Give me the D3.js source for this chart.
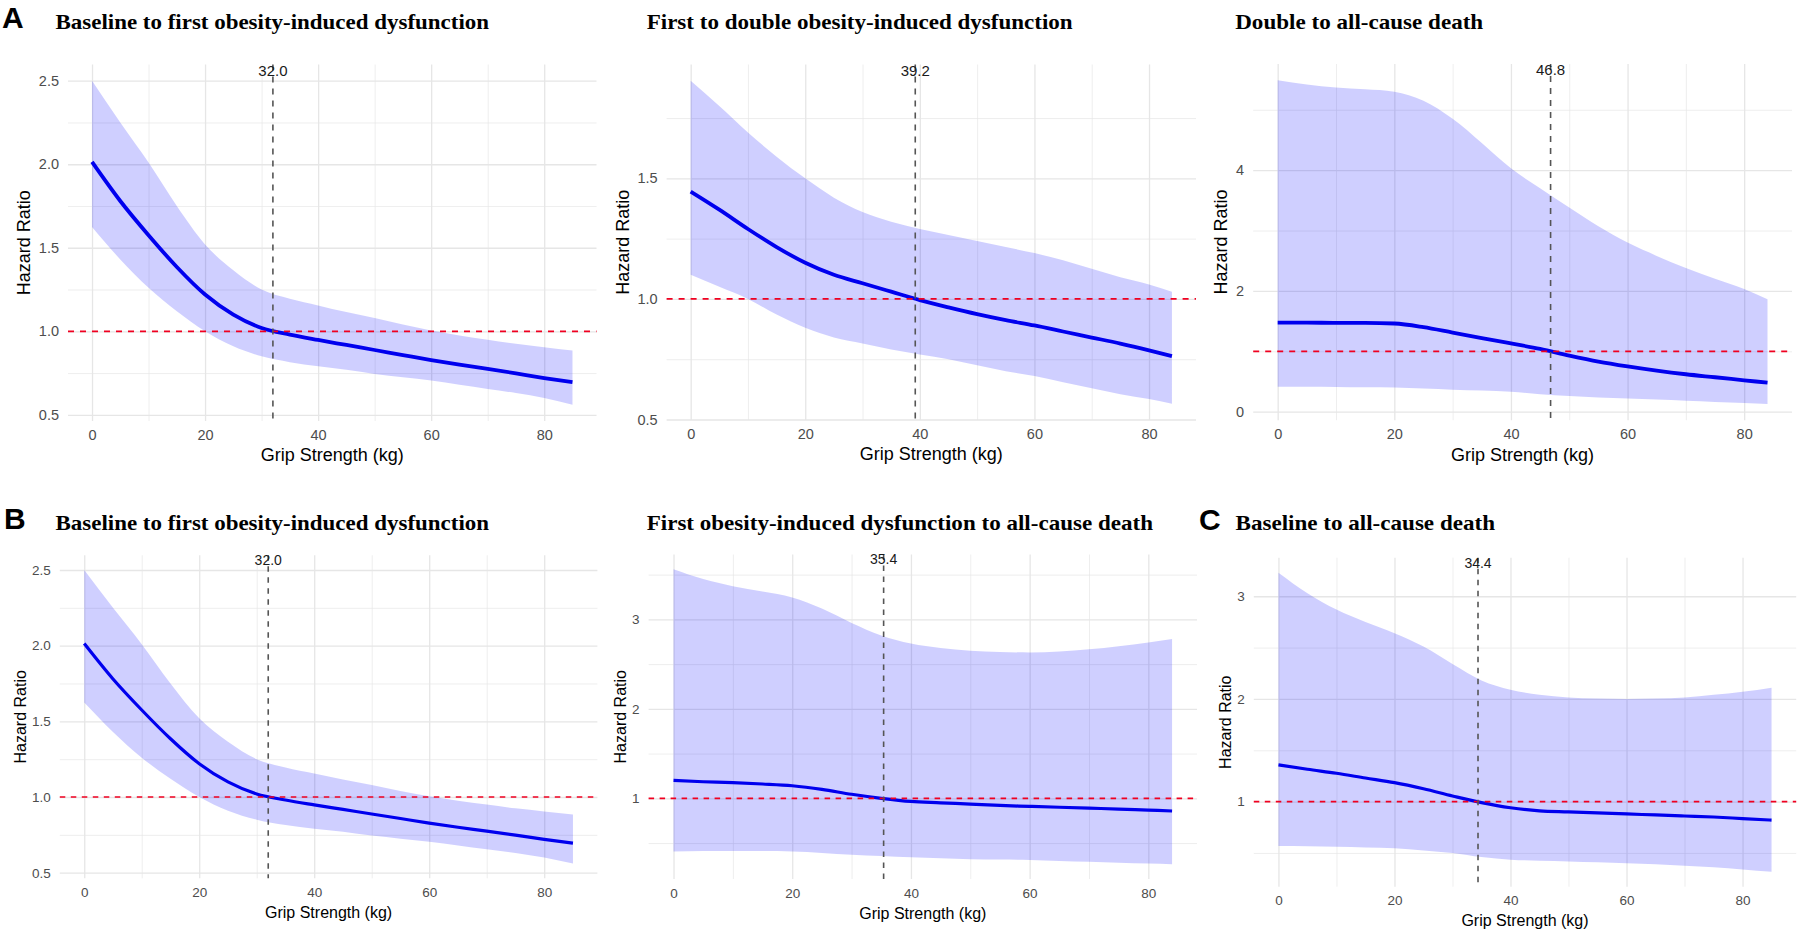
<!DOCTYPE html>
<html><head><meta charset="utf-8">
<script src="https://cdn.jsdelivr.net/npm/d3@7"></script>
<style>body{margin:0;background:#fff;} svg{display:block;}</style>
</head><body><svg id="chart" width="1800" height="931"></svg>
<script>
// ---------------- DATA ----------------
const gripFull = [0,5,10,15,20,25,30,35,40,45,50,55,60,65,70,75,80,85];
const gripShort = [0,5,10,15,20,25,30,35,40,45,50,55,60,65,70,75,80,84];
const xTicks = [0,20,40,60,80];
const xMinor = [10,30,50,70];
const axisTitleX = "Grip Strength (kg)";
const axisTitleY = "Hazard Ratio";

// Baseline to first obesity-induced dysfunction (A and B, identical)
const base1_hr    = [2.014,1.78,1.575,1.385,1.22,1.10,1.02,0.98,0.948,0.918,0.888,0.858,0.828,0.80,0.775,0.748,0.72,0.695];
const base1_upper = [2.5,2.25,2.01,1.75,1.52,1.365,1.25,1.195,1.155,1.115,1.08,1.04,1.005,0.975,0.95,0.925,0.905,0.885];
const base1_lower = [1.625,1.43,1.26,1.12,1.0,0.91,0.85,0.815,0.79,0.77,0.745,0.725,0.705,0.68,0.655,0.63,0.60,0.56];
const base1_ref = 32.0;
const base1_yTicks = [0.5,1.0,1.5,2.0,2.5];

// First to double obesity-induced dysfunction
const double_hr    = [1.445,1.37,1.29,1.215,1.15,1.10,1.065,1.03,0.995,0.965,0.937,0.912,0.89,0.865,0.84,0.815,0.787,0.763];
const double_upper = [1.905,1.80,1.69,1.59,1.50,1.42,1.36,1.32,1.29,1.265,1.24,1.215,1.19,1.16,1.125,1.09,1.06,1.03];
const double_lower = [1.10,1.05,1.0,0.935,0.88,0.84,0.815,0.79,0.77,0.75,0.725,0.70,0.68,0.655,0.63,0.605,0.585,0.565];
const double_ref = 39.2;
const double_yTicks = [0.5,1.0,1.5];

// Double to all-cause death
const dDeath_hr    = [1.475,1.475,1.47,1.47,1.46,1.40,1.31,1.22,1.13,1.04,0.93,0.83,0.75,0.68,0.62,0.57,0.52,0.48];
const dDeath_upper = [5.49,5.42,5.37,5.34,5.30,5.15,4.85,4.45,4.03,3.70,3.38,3.07,2.80,2.58,2.38,2.20,2.03,1.86];
const dDeath_lower = [0.414,0.413,0.41,0.405,0.40,0.385,0.365,0.35,0.33,0.29,0.26,0.235,0.22,0.20,0.18,0.16,0.145,0.127];
const dDeath_ref = 46.8;
const dDeath_yTicks = [0,2,4];

// First obesity-induced dysfunction to all-cause death
const fDeath_hr    = [1.20,1.185,1.175,1.16,1.14,1.10,1.045,1.0,0.965,0.95,0.935,0.92,0.91,0.90,0.89,0.88,0.868,0.858];
const fDeath_upper = [3.56,3.45,3.37,3.31,3.245,3.12,2.96,2.82,2.73,2.68,2.65,2.635,2.63,2.64,2.665,2.70,2.74,2.78];
const fDeath_lower = [0.405,0.41,0.41,0.41,0.405,0.39,0.37,0.355,0.34,0.33,0.32,0.315,0.31,0.30,0.29,0.28,0.27,0.263];
const fDeath_ref = 35.4;
const fDeath_yTicks = [1,2,3];

// Baseline to all-cause death
const bDeath_hr    = [1.358,1.315,1.276,1.23,1.185,1.125,1.055,0.99,0.94,0.91,0.90,0.89,0.88,0.87,0.86,0.85,0.835,0.82];
const bDeath_upper = [3.23,3.03,2.87,2.75,2.64,2.51,2.34,2.18,2.09,2.04,2.015,2.005,2.0,2.005,2.015,2.04,2.07,2.11];
const bDeath_lower = [0.567,0.565,0.56,0.553,0.545,0.525,0.50,0.46,0.435,0.425,0.418,0.41,0.40,0.39,0.375,0.36,0.34,0.317];
const bDeath_ref = 34.4;
const bDeath_yTicks = [1,2,3];

const titles = [
  "Baseline to first obesity-induced dysfunction",
  "First to double obesity-induced dysfunction",
  "Double to all-cause death",
  "Baseline to first obesity-induced dysfunction",
  "First obesity-induced dysfunction to all-cause death",
  "Baseline to all-cause death"
];
const letters = [{t:"A",x:2,y:28},{t:"B",x:4,y:529},{t:"C",x:1199,y:530}];

// ---------------- LAYOUT ----------------
const rows = {
  1:{tick:14.5, axisTitle:18, refFont:15, lw:3.8, gap:15, dash:"6,6"},
  2:{tick:13.5, axisTitle:16, refFont:14, lw:3.2, gap:11.5, dash:"5.5,5.5"}
};
const panels = [
  {grip:gripFull, hr:base1_hr, hi:base1_upper, lo:base1_lower, ref:base1_ref, yTicks:base1_yTicks, fmt:".1f",
   rect:[68,64.5,596.5,421], title:titles[0], tx:55.5, ty:29, tw:433.5, row:1},
  {grip:gripShort, hr:double_hr, hi:double_upper, lo:double_lower, ref:double_ref, yTicks:double_yTicks, fmt:".1f",
   rect:[666.6,64.5,1196,420], title:titles[1], tx:646.7, ty:29, tw:426, row:1},
  {grip:gripShort, hr:dDeath_hr, hi:dDeath_upper, lo:dDeath_lower, ref:dDeath_ref, yTicks:dDeath_yTicks, fmt:"d",
   rect:[1253.2,64,1792,420.2], title:titles[2], tx:1235.2, ty:29, tw:248, row:1},
  {grip:gripFull, hr:base1_hr, hi:base1_upper, lo:base1_lower, ref:base1_ref, yTicks:base1_yTicks, fmt:".1f",
   rect:[59.8,555.3,597.4,878.3], title:titles[3], tx:55.5, ty:530, tw:433.5, row:2},
  {grip:gripShort, hr:fDeath_hr, hi:fDeath_upper, lo:fDeath_lower, ref:fDeath_ref, yTicks:fDeath_yTicks, fmt:"d",
   rect:[648.6,554.5,1197,879], title:titles[4], tx:646.7, ty:530, tw:506.3, row:2},
  {grip:gripFull, hr:bDeath_hr, hi:bDeath_upper, lo:bDeath_lower, ref:bDeath_ref, yTicks:bDeath_yTicks, fmt:"d",
   rect:[1253.8,557.7,1796.2,886.7], title:titles[5], tx:1235.5, ty:530, tw:259.5, row:2}
];

const svg = d3.select("#chart");
const SANS = "'Liberation Sans', Arial, Helvetica, sans-serif";
const SERIF = "'Liberation Serif', 'Times New Roman', serif";

letters.forEach(l => {
  svg.append("text").attr("x", l.x).attr("y", l.y).text(l.t)
    .attr("font-family", SANS).attr("font-weight", "bold").attr("font-size", 30).attr("fill", "#000");
});

panels.forEach(p => {
  const st = rows[p.row];
  const [L,T,R,B] = p.rect;
  const g = svg.append("g");
  const xe = d3.extent(p.grip), xp = (xe[1]-xe[0])*0.05;
  const x = d3.scaleLinear().domain([xe[0]-xp, xe[1]+xp]).range([L,R]);
  const yMin = d3.min(p.lo), yMax = d3.max(p.hi), yp = (yMax-yMin)*0.05;
  const y = d3.scaleLinear().domain([yMin-yp, yMax+yp]).range([B,T]);
  const yd = y.domain();
  const step = p.yTicks[1]-p.yTicks[0];
  const yMinor = [];
  p.yTicks.forEach(t => { [t-step/2, t+step/2].forEach(m => {
    if (m>=yd[0] && m<=yd[1] && !yMinor.some(v=>Math.abs(v-m)<1e-9)) yMinor.push(m); }); });

  const gridStyle = (sel, w) => { sel.select(".domain").remove();
    sel.selectAll("line").attr("stroke","#e6e6e6").attr("stroke-width", w); };

  // minor grid
  g.append("g").attr("transform",`translate(0,${B})`)
    .call(d3.axisBottom(x).tickValues(xMinor).tickSize(-(B-T)).tickFormat(""))
    .call(s => gridStyle(s, 0.7));
  g.append("g").attr("transform",`translate(${L},0)`)
    .call(d3.axisLeft(y).tickValues(yMinor).tickSize(-(R-L)).tickFormat(""))
    .call(s => gridStyle(s, 0.7));
  // major grid
  g.append("g").attr("transform",`translate(0,${B})`)
    .call(d3.axisBottom(x).tickValues(xTicks).tickSize(-(B-T)).tickFormat(""))
    .call(s => gridStyle(s, 1.3));
  g.append("g").attr("transform",`translate(${L},0)`)
    .call(d3.axisLeft(y).tickValues(p.yTicks).tickSize(-(R-L)).tickFormat(""))
    .call(s => gridStyle(s, 1.3));

  const pts = p.grip.map((v,i)=>({x:v, hr:p.hr[i], lo:p.lo[i], hi:p.hi[i]}));
  g.append("path").datum(pts)
    .attr("d", d3.area().curve(d3.curveMonotoneX).x(d=>x(d.x)).y0(d=>y(d.lo)).y1(d=>y(d.hi)))
    .attr("fill","#0000ff").attr("fill-opacity",0.19);
  g.append("path").datum(pts)
    .attr("d", d3.line().curve(d3.curveMonotoneX).x(d=>x(d.x)).y(d=>y(d.hr)))
    .attr("fill","none").attr("stroke","#0000ee").attr("stroke-width",st.lw).attr("stroke-linecap","butt");

  // reference lines
  g.append("line").attr("x1",L).attr("x2",R).attr("y1",y(1)).attr("y2",y(1))
    .attr("stroke","#f00020").attr("stroke-width",1.7).attr("stroke-dasharray",st.dash);
  g.append("line").attr("x1",x(p.ref)).attr("x2",x(p.ref)).attr("y1",T).attr("y2",B)
    .attr("stroke","#555555").attr("stroke-width",1.6).attr("stroke-dasharray",st.dash);
  g.append("text").attr("x",x(p.ref)).attr("y",y(yMax)-10).attr("dy","0.35em")
    .attr("text-anchor","middle").attr("font-family",SANS).attr("font-size",st.refFont)
    .attr("fill","#1a1a1a").text(d3.format(".1f")(p.ref));

  // axes labels
  const xa = g.append("g").attr("transform",`translate(0,${B})`)
    .call(d3.axisBottom(x).tickValues(xTicks).tickSize(0).tickPadding(9).tickFormat(d3.format("d")));
  xa.select(".domain").remove();
  xa.selectAll("text").attr("font-family",SANS).attr("font-size",st.tick).attr("fill","#4d4d4d");
  const ya = g.append("g").attr("transform",`translate(${L},0)`)
    .call(d3.axisLeft(y).tickValues(p.yTicks).tickSize(0).tickPadding(9).tickFormat(d3.format(p.fmt)));
  ya.select(".domain").remove();
  ya.selectAll("text").attr("font-family",SANS).attr("font-size",st.tick).attr("fill","#4d4d4d");
  let maxW = 0; ya.selectAll("text").each(function(){ maxW = Math.max(maxW, this.getComputedTextLength()); });

  g.append("text").attr("x",(L+R)/2).attr("y",B+34).attr("dy","0.35em").attr("text-anchor","middle")
    .attr("font-family",SANS).attr("font-size",st.axisTitle).attr("fill","#000").text(axisTitleX);
  const yx = L - 9 - maxW - st.gap;
  g.append("text").attr("transform",`translate(${yx},${(T+B)/2}) rotate(-90)`).attr("dy","0.35em")
    .attr("text-anchor","middle").attr("font-family",SANS).attr("font-size",st.axisTitle).attr("fill","#000").text(axisTitleY);

  svg.append("text").attr("x",p.tx).attr("y",p.ty).text(p.title)
    .attr("font-family",SERIF).attr("font-weight","bold").attr("font-size",22).attr("fill","#000")
    .attr("textLength",p.tw).attr("lengthAdjust","spacingAndGlyphs");
});
</script></body></html>
